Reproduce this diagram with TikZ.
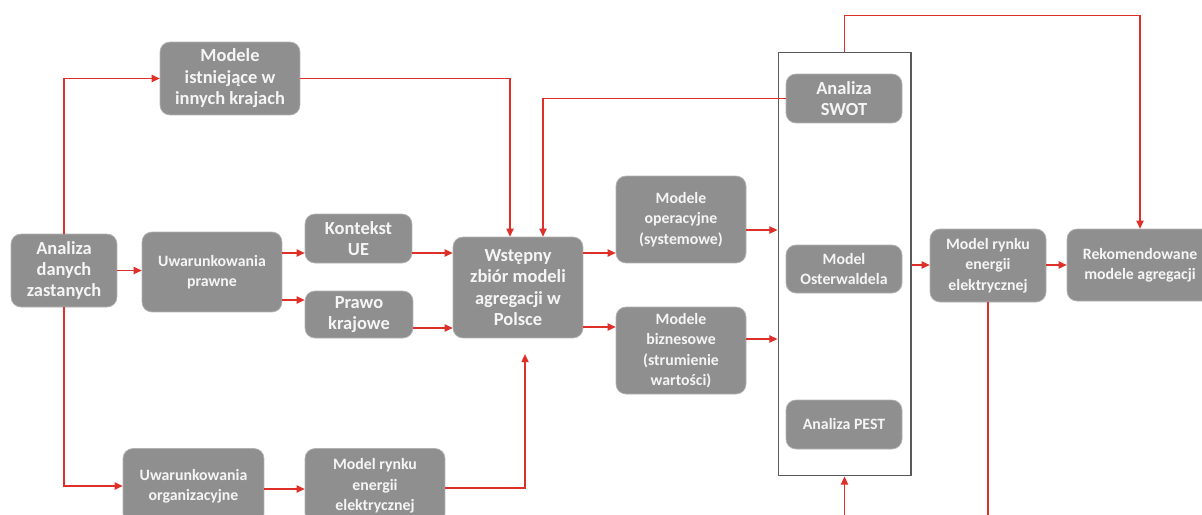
\documentclass[tikz,border=0pt]{standalone}
\usepackage{fontspec}
\setmainfont{Carlito}
\usetikzlibrary{arrows.meta}
\definecolor{boxgray}{RGB}{143,143,143}
\definecolor{boxedge}{RGB}{178,178,178}
\definecolor{boxtext}{RGB}{245,245,245}
\definecolor{linered}{RGB}{222,48,40}
\definecolor{framegray}{RGB}{90,90,90}
\tikzset{
  box/.style={rectangle, rounded corners=0.2cm, fill=boxgray, draw=boxedge, line width=0.4pt,
    text=boxtext, align=center, inner sep=1pt, font=\bfseries\fontsize{10.5}{12.2}\selectfont},
  sbox/.style={box, font=\bfseries\fontsize{9}{11.6}\selectfont},
  arr/.style={draw=linered, line width=0.6pt, -{Triangle[length=4.6pt,width=4.2pt]}},
  ln/.style={draw=linered, line width=0.6pt},
  frame/.style={draw=framegray, line width=0.6pt, fill=none}
}
\begin{document}
\begin{tikzpicture}[x=0.02cm,y=-0.02cm]
\useasboundingbox (0,0) rectangle (1202,514);
% nodes
\node[box, minimum width=2.12cm, minimum height=1.46cm] (adz) at (64,270.5) {Analiza\\danych\\zastanych};
\node[box, minimum width=2.8cm, minimum height=1.46cm] (mi) at (230,78.5) {Modele\\istniejące w\\innych krajach};
\node[sbox, minimum width=2.8cm, minimum height=1.6cm] (up) at (212,272) {Uwarunkowania\\prawne};
\node[box, minimum width=2.14cm, minimum height=0.98cm] (ue) at (358.5,238.5) {Kontekst\\UE};
\node[box, minimum width=2.16cm, minimum height=0.94cm] (pk) at (359,314.5) {Prawo\\krajowe};
\node[box, minimum width=2.6cm, minimum height=2.02cm] (wz) at (518,287.5) {Wstępny\\zbiór modeli\\agregacji w\\Polsce};
\node[sbox, minimum width=2.6cm, minimum height=1.74cm] (mo) at (681,219.5) {Modele\\operacyjne\\(systemowe)};
\node[sbox, minimum width=2.6cm, minimum height=1.74cm] (mb) at (681,350.5) {Modele\\biznesowe\\(strumienie\\wartości)};
\node[frame, rectangle, minimum width=2.66cm, minimum height=8.48cm, inner sep=0pt] (fr) at (844.5,264) {};
\node[box, minimum width=2.32cm, minimum height=0.98cm] (swot) at (844,98.5) {Analiza\\SWOT};
\node[sbox, minimum width=2.32cm, minimum height=0.96cm] (ost) at (844,269) {Model\\Osterwaldela};
\node[sbox, minimum width=2.32cm, minimum height=0.98cm] (pest) at (844,424.5) {Analiza PEST};
\node[sbox, minimum width=2.32cm, minimum height=1.46cm] (mr2) at (988,265.5) {Model rynku\\energii\\elektrycznej};
\node[sbox, minimum width=2.92cm, minimum height=1.44cm] (rek) at (1140,265) {Rekomendowane\\modele agregacji};
\node[sbox, minimum width=2.82cm, minimum height=1.5cm] (uo) at (193.5,486) {Uwarunkowania\\organizacyjne};
\node[sbox, minimum width=2.8cm, minimum height=1.5cm] (mr1) at (375,486) {Model rynku\\energii\\elektrycznej};
% free ends
\coordinate (frin) at (844.5,530);
\coordinate (mrout) at (988,530);
% connectors
\draw[arr] (adz.north) |- (mi.west);
\draw[arr] (adz.east) -- (adz.east -| up.west);
\draw[arr] (adz.south) |- (uo.west);
\draw[arr] (up.east |- 0,253) -- (ue.west |- 0,253);
\draw[arr] (up.east |- 0,300) -- (pk.west |- 0,300);
\draw[arr] (ue.east |- 0,253) -- (wz.west |- 0,253);
\draw[arr] (pk.east |- 0,328) -- (wz.west |- 0,328);
\draw[arr] (mi.east) -| (wz.north -| 510,0);
\draw[arr] (swot.west) -| (wz.north -| 543,0);
\draw[arr, shorten >=9pt] (mr1.east |- 0,488) -| (wz.south -| 525,0);
\draw[arr] (uo.east |- 0,489) -- (mr1.west |- 0,489);
\draw[arr] (wz.east |- 0,253) -- (mo.west |- 0,253);
\draw[arr] (wz.east |- 0,327) -- (mb.west |- 0,327);
\draw[arr] (mo.east |- 0,230) -- (fr.west |- 0,230);
\draw[arr] (mb.east |- 0,339) -- (fr.west |- 0,339);
\draw[arr] (fr.east |- 0,265) -- (mr2.west |- 0,265);
\draw[arr] (mr2.east |- 0,265) -- (rek.west |- 0,265);
\draw[arr] (fr.north) -- ++(0,-36) -| (rek.north);
\draw[arr] (frin) -- (fr.south);
\draw[ln] (mr2.south) -- (mrout);
\end{tikzpicture}
\end{document}
